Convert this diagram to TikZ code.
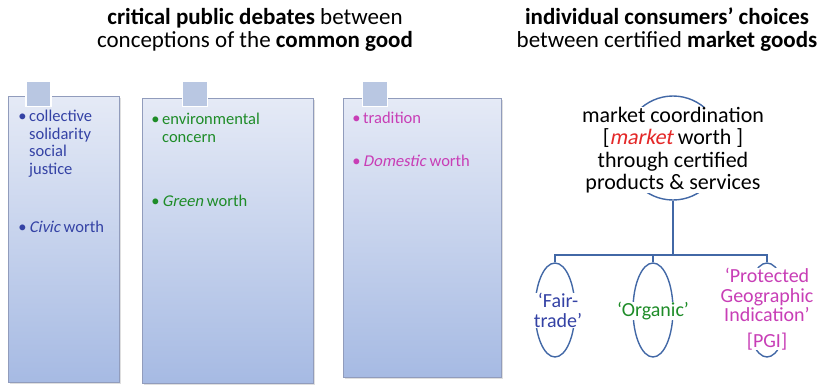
\documentclass[tikz,border=0pt]{standalone}
\usepackage{fontspec}
\setmainfont{Carlito}[ItalicFont=Carlito, ItalicFeatures={FakeSlant=0.2}]
\usepackage{tikz}
\usetikzlibrary{shapes,positioning,shadows}
\definecolor{civic}{RGB}{52,66,165}
\definecolor{greenworth}{RGB}{30,140,40}
\definecolor{domestic}{RGB}{200,62,182}
\definecolor{marketred}{RGB}{228,40,40}
\definecolor{frame}{RGB}{145,156,188}
\definecolor{boxtop}{RGB}{229,234,246}
\definecolor{boxbottom}{RGB}{166,186,227}
\definecolor{tabfill}{RGB}{185,199,226}
\definecolor{line}{RGB}{66,104,166}

\begin{document}
\begin{tikzpicture}[
    x=1pt, y=-1pt,
    valuebox/.style={rectangle, draw=frame, line width=1.2pt, top color=boxtop, bottom color=boxbottom, anchor=north west, drop shadow={opacity=0.25, shadow xshift=1pt, shadow yshift=-1.5pt}},
    tab/.style={rectangle, draw=white, line width=1.5pt, fill=tabfill, minimum size=25pt, inner sep=0pt},
    item/.style={anchor=north west, align=left, inner sep=0pt, font=\fontsize{16.5}{17.5}\selectfont},
    heading/.style={align=center, font=\fontsize{23}{23}\selectfont},
    choice/.style={ellipse, draw=line, line width=1.4pt, minimum width=40pt, minimum height=94pt, inner sep=0pt},
    label/.style={align=center, fill=white, inner sep=0pt, font=\fontsize{20}{19.5}\selectfont},
    branch/.style={draw=line, line width=1.4pt}
]
    \useasboundingbox (0,0) rectangle (820,384);

    % headings
    \node[heading] (public) at (255,30) {\textbf{critical public debates} between\\conceptions of the \textbf{common good}};
    \node[heading] (consumer) at (667,30) {\textbf{individual consumers’ choices}\\between certified \textbf{market goods}};

    % three justification boxes
    \node[valuebox, minimum width=111pt, minimum height=286pt] (civicbox) at (8,96) {};
    \node[valuebox, minimum width=171pt, minimum height=285pt] (greenbox) at (142,98) {};
    \node[valuebox, minimum width=158pt, minimum height=279pt] (domesticbox) at (343,98) {};
    \node[tab] (civictab) at (38.5,94) {};
    \node[tab] (greentab) at (195,94) {};
    \node[tab] (domestictab) at (375,94) {};

    \node[item, text=civic] (solidarity) at (29,110) {\llap{•\hspace{2.5pt}}collective\\solidarity\\social\\justice};
    \node[item, text=civic] (civicworth) at (29,221) {\llap{•\hspace{2.5pt}}\textit{Civic} worth};
    \node[item, text=greenworth] (concern) at (162,113) {\llap{•\hspace{2.5pt}}environmental\\concern};
    \node[item, text=greenworth] (greenitem) at (162,195) {\llap{•\hspace{2.5pt}}\textit{Green} worth};
    \node[item, text=domestic] (tradition) at (363,112) {\llap{•\hspace{2.5pt}}tradition};
    \node[item, text=domestic] (domesticworth) at (363,155) {\llap{•\hspace{2.5pt}}\textit{Domestic} worth};

    % market coordination tree
    \node[ellipse, draw=line, line width=1.4pt, minimum width=100pt, minimum height=104pt] (coord) at (673,148) {};
    \node[align=center, fill=white, inner sep=0pt, font=\fontsize{22}{22.5}\selectfont] (coordtext) at (673,150) {market coordination\\{}[\textcolor{marketred}{\textit{market}} worth ]\\through certified\\products \& services};

    \node[choice] (fair) at (555,310) {};
    \node[choice] (organic) at (653,310) {};
    \node[choice] (pgi) at (767,310) {};
    \coordinate (bar) at (673,255);

    \draw[branch] (coord.south) -- (bar);
    \draw[branch] (fair.north) |- (bar) -| (pgi.north);
    \draw[branch] (organic.north) -- (organic.north |- bar);

    \node[label, text=civic] (fairtext) at (558,310.5) {‘Fair-\\trade’};
    \node[label, text=greenworth] (organictext) at (653,311) {‘Organic’};
    \node[label, text=domestic] (pgitext) at (767,309) {‘Protected\\Geographic\\Indication’\\[6pt][PGI]};
\end{tikzpicture}
\end{document}
